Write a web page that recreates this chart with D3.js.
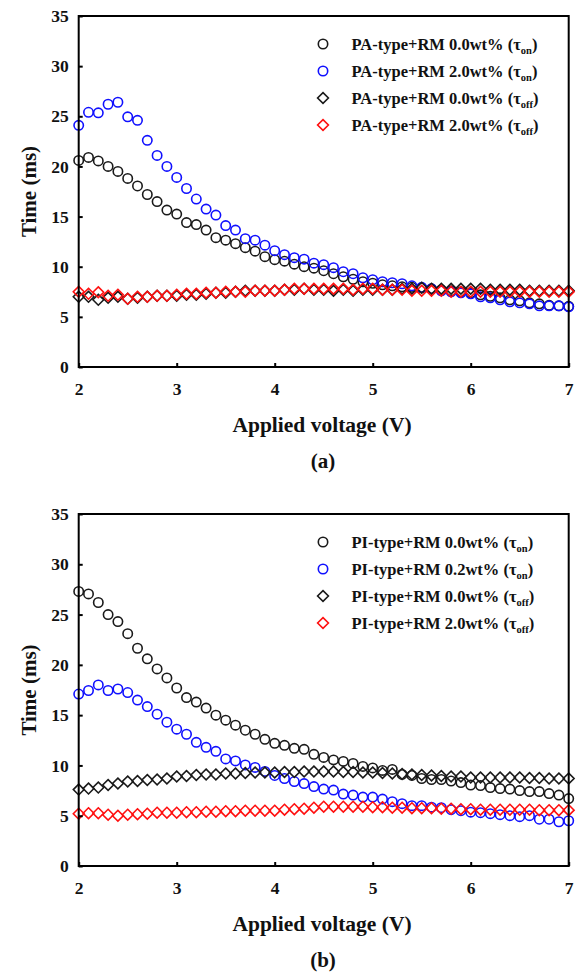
<!DOCTYPE html>
<html>
<head>
<meta charset="utf-8">
<script src="https://cdn.jsdelivr.net/npm/d3@7"></script>
<style>
  html, body { margin: 0; padding: 0; background: #fff; }
  svg { display: block; }
  text { font-family: "Liberation Serif", "Times New Roman", serif; font-weight: bold; fill: #111; }
</style>
</head>
<body>
<svg id="chart" width="576" height="979"></svg>
<script>
// ---------- DATA ----------
const voltages = [2.0,2.1,2.2,2.3,2.4,2.5,2.6,2.7,2.8,2.9,
                  3.0,3.1,3.2,3.3,3.4,3.5,3.6,3.7,3.8,3.9,
                  4.0,4.1,4.2,4.3,4.4,4.5,4.6,4.7,4.8,4.9,
                  5.0,5.1,5.2,5.3,5.4,5.5,5.6,5.7,5.8,5.9,
                  6.0,6.1,6.2,6.3,6.4,6.5,6.6,6.7,6.8,6.9,7.0];

const xTicks = [2, 3, 4, 5, 6, 7];
const yTicks = [0, 5, 10, 15, 20, 25, 30, 35];

// Panel (a)
const paOn00 = [20.6,20.9,20.55,20.0,19.5,18.8,18.05,17.2,16.5,15.65,
                15.25,14.4,14.2,13.65,12.9,12.65,12.3,11.9,11.55,11.0,
                10.7,10.55,10.25,10.0,9.85,9.6,9.3,9.0,8.75,8.5,
                8.35,8.2,8.1,8.0,7.95,7.9,7.8,7.7,7.6,7.5,
                7.4,7.2,7.05,6.9,6.7,6.6,6.4,6.3,6.15,6.1,6.05];
const paOn20 = [24.1,25.4,25.35,26.2,26.4,24.95,24.6,22.6,21.1,20.0,
                18.9,17.8,16.75,15.75,15.15,14.1,13.65,12.8,12.65,12.15,
                11.6,11.2,10.9,10.75,10.35,10.2,9.9,9.5,9.3,8.9,
                8.7,8.5,8.4,8.3,8.1,7.95,7.8,7.6,7.5,7.4,
                7.3,7.0,6.9,6.7,6.5,6.4,6.3,6.1,6.1,6.1,6.0];
const paOff00 = [7.0,7.0,6.7,6.9,7.0,6.8,6.9,7.0,7.1,7.1,
                 7.1,7.2,7.2,7.3,7.4,7.4,7.5,7.6,7.6,7.6,
                 7.6,7.7,7.7,7.8,7.7,7.7,7.6,7.7,7.6,7.7,
                 7.7,7.7,7.7,7.8,7.8,7.9,7.8,7.8,7.8,7.8,
                 7.8,7.8,7.7,7.7,7.7,7.7,7.6,7.6,7.6,7.6,7.6];
const paOff20 = [7.5,7.3,7.45,7.1,7.2,6.8,7.0,7.0,7.1,7.1,
                 7.2,7.3,7.3,7.4,7.4,7.5,7.5,7.5,7.6,7.6,
                 7.6,7.7,7.8,7.8,7.8,7.8,7.8,7.8,7.7,7.8,
                 7.8,7.7,7.7,7.7,7.6,7.6,7.6,7.6,7.5,7.5,
                 7.5,7.5,7.5,7.5,7.5,7.5,7.5,7.5,7.5,7.5,7.5];

// Panel (b)
const piOn00 = [27.3,27.05,26.2,25.0,24.3,23.1,21.65,20.6,19.6,18.7,
                17.7,16.75,16.3,15.7,15.0,14.5,14.0,13.5,13.1,12.6,
                12.2,12.0,11.7,11.6,11.1,10.8,10.55,10.4,10.2,9.9,
                9.75,9.5,9.6,9.1,9.0,8.7,8.6,8.6,8.45,8.3,
                8.05,8.0,7.8,7.7,7.65,7.5,7.4,7.4,7.2,7.05,6.7];
const piOn02 = [17.1,17.45,18.0,17.45,17.6,17.25,16.5,15.85,15.1,14.3,
                13.6,13.1,12.3,11.8,11.4,10.65,10.45,10.05,9.8,9.4,
                9.0,8.7,8.4,8.2,7.9,7.65,7.55,7.15,7.05,6.85,
                6.85,6.65,6.4,6.2,6.0,6.0,5.85,5.8,5.6,5.5,
                5.35,5.3,5.2,5.1,5.0,4.9,5.0,4.65,4.65,4.4,4.5];
const piOff00 = [7.6,7.7,7.8,8.05,8.2,8.4,8.45,8.55,8.6,8.7,
                 8.9,8.95,9.05,9.1,9.1,9.2,9.2,9.25,9.3,9.3,
                 9.3,9.35,9.35,9.4,9.4,9.4,9.4,9.35,9.35,9.3,
                 9.3,9.25,9.2,9.15,9.1,9.05,9.0,8.95,8.9,8.9,
                 8.8,8.8,8.8,8.8,8.8,8.8,8.75,8.75,8.7,8.7,8.7];
const piOff20 = [5.2,5.25,5.25,5.1,5.0,5.1,5.15,5.2,5.3,5.3,
                 5.3,5.35,5.35,5.4,5.4,5.45,5.45,5.5,5.5,5.5,
                 5.5,5.6,5.65,5.7,5.8,5.9,5.9,5.9,5.9,5.9,
                 5.85,5.85,5.8,5.8,5.75,5.75,5.75,5.7,5.7,5.65,
                 5.65,5.6,5.6,5.6,5.6,5.6,5.6,5.55,5.55,5.55,5.55];

const seriesNamesA = ["PA-type+RM 0.0wt% ", "PA-type+RM 2.0wt% ", "PA-type+RM 0.0wt% ", "PA-type+RM 2.0wt% "];
const seriesNamesB = ["PI-type+RM 0.0wt% ", "PI-type+RM 0.2wt% ", "PI-type+RM 0.0wt% ", "PI-type+RM 2.0wt% "];
const seriesSubs = ["on", "on", "off", "off"];
const seriesShapes = ["circle", "circle", "diamond", "diamond"];
const seriesColors = ["#1a1a1a", "#1010ff", "#1a1a1a", "#ff1010"];

const xTitle = "Applied voltage (V)";
const yTitle = "Time (ms)";

// ---------- DRAW ----------
const svg = d3.select("#chart");
const left = 78.7, right = 568.7;

function drawPanel(top, bottom, seriesVals, names, caption) {
  const x = d3.scaleLinear().domain([2, 7]).range([left, right]);
  const y = d3.scaleLinear().domain([0, 35]).range([bottom, top]);
  const g = svg.append("g");

  // data markers
  seriesVals.forEach((vals, si) => {
    const col = seriesColors[si];
    const pts = voltages.map((v, i) => [v, vals[i]]);
    if (seriesShapes[si] === "circle") {
      g.append("g").selectAll("circle").data(pts).join("circle")
        .attr("cx", d => x(d[0])).attr("cy", d => y(d[1])).attr("r", 4.7)
        .attr("fill", "none").attr("stroke", col).attr("stroke-width", 1.6);
    } else {
      const s = 5.4;
      g.append("g").selectAll("path").data(pts).join("path")
        .attr("d", d => { const cx = x(d[0]), cy = y(d[1]);
          return `M${cx},${cy - s}L${cx + s},${cy}L${cx},${cy + s}L${cx - s},${cy}Z`; })
        .attr("fill", "none").attr("stroke", col).attr("stroke-width", 1.6);
    }
  });

  // axes
  const xAxis = d3.axisBottom(x).tickValues(xTicks).tickSize(-4).tickPadding(13).tickFormat(d3.format("d"));
  const yAxis = d3.axisLeft(y).tickValues(yTicks).tickSize(-4).tickPadding(10).tickFormat(d3.format("d"));
  const gx = g.append("g").attr("transform", `translate(0,${bottom})`).call(xAxis);
  const gy = g.append("g").attr("transform", `translate(${left},0)`).call(yAxis);
  [gx, gy].forEach(a => {
    a.select(".domain").remove();
    a.selectAll(".tick line").attr("stroke", "#000").attr("stroke-width", 2);
    a.selectAll(".tick text").attr("font-size", 17.5).attr("font-family", "Liberation Serif").attr("font-weight", "bold").attr("fill", "#111");
  });
  gx.selectAll(".tick text").attr("dy", "0.85em");

  // frame
  g.append("rect").attr("x", left).attr("y", top).attr("width", right - left).attr("height", bottom - top)
    .attr("fill", "none").attr("stroke", "#000").attr("stroke-width", 2);

  // titles
  g.append("text").attr("x", 322).attr("y", bottom + 65).attr("text-anchor", "middle")
    .attr("font-size", 21.5).text(xTitle);
  g.append("text").attr("transform", `translate(36,${(top + bottom) / 2}) rotate(-90)`)
    .attr("text-anchor", "middle").attr("font-size", 21).text(yTitle);
  g.append("text").attr("x", 323).attr("y", bottom + 101).attr("text-anchor", "middle")
    .attr("font-size", 21).text(caption);

  // legend
  const rowOff = [28, 55, 82, 109];
  names.forEach((nm, i) => {
    const cy = top + rowOff[i];
    const cx = 323;
    if (seriesShapes[i] === "circle") {
      g.append("circle").attr("cx", cx).attr("cy", cy).attr("r", 4.7)
        .attr("fill", "none").attr("stroke", seriesColors[i]).attr("stroke-width", 1.6);
    } else {
      const s = 5.4;
      g.append("path").attr("d", `M${cx},${cy - s}L${cx + s},${cy}L${cx},${cy + s}L${cx - s},${cy}Z`)
        .attr("fill", "none").attr("stroke", seriesColors[i]).attr("stroke-width", 1.6);
    }
    const t = g.append("text").attr("x", 351.5).attr("y", cy + 5.5).attr("font-size", 16.5);
    t.append("tspan").text(nm + "(\u03C4");
    t.append("tspan").attr("font-size", 10.5).attr("dy", 4).text(seriesSubs[i]);
    t.append("tspan").attr("dy", -4).text(")");
  });
}

drawPanel(16, 367, [paOn00, paOn20, paOff00, paOff20], seriesNamesA, "(a)");
drawPanel(514, 866, [piOn00, piOn02, piOff00, piOff20], seriesNamesB, "(b)");
</script>
</body>
</html>
